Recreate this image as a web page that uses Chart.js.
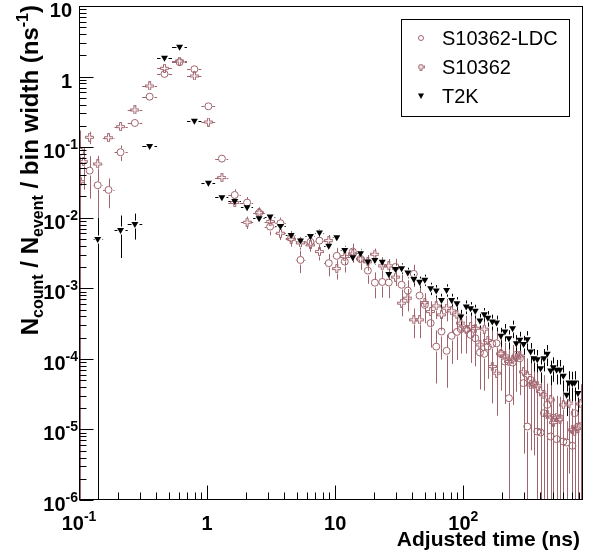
<!DOCTYPE html>
<html>
<head>
<meta charset="utf-8" />
<script src="https://cdn.jsdelivr.net/npm/chart.js@4.4.1/dist/chart.umd.min.js"></script>
<style>
  body { margin:0; background:#fff; }
  #wrap { width:596px; height:554px; }
</style>
</head>
<body>
<div id="wrap"><canvas id="c" width="596" height="554"></canvas></div>
<script>
// bin centres (ns), shared by the three samples
const binCentres = [
  0.1024, 0.1086, 0.121, 0.140, 0.170, 0.211, 0.273, 0.356, 0.465, 0.610,
  0.796, 1.024, 1.305, 1.643, 2.053, 2.548, 3.105, 3.738, 4.53, 5.36,
  6.41, 7.54, 8.91, 10.29, 11.88, 13.72, 15.77, 17.99, 20.4, 23.3,
  26.2, 29.6, 33.0, 36.9, 41.1, 45.6, 50.1, 55.6, 61.5, 67.6,
  74.1, 81.1, 89.2, 95.8, 105.5, 114.0, 124.1, 134.9, 145.9, 155.6,
  168.5, 182.0, 196.6, 211.3, 227.1, 242.7, 259.2, 276.6, 295.7, 316.2,
  335.5, 356.2, 378.4, 401.6, 426.4, 452.8, 480.8, 504.6, 535.6, 568.5,
  604.0, 641.3, 668.3, 710.6, 741.3, 785.9, 825
];

const ldcValues = [
  0.0863, null, 0.0465, 0.0289, 0.0248, 0.0847, 0.220, 0.519, 1.09, 1.60,
  1.27, 0.379, 0.0688, 0.0210, 0.0164, 0.0117, 0.00748, 0.00836, 0.00518, 0.00252,
  0.00454, 0.00474, 0.00227, 0.00288, 0.00239, 0.00331, 0.00261, 0.00178, 0.00120, 0.00123,
  0.00121, 0.00201, 0.00112, 0.000927, 0.00160, 0.000788, 0.000582, 0.000321, 0.000149, 0.000244,
  0.000130, 0.000212, 0.000241, 0.000264, 0.000264, 0.000219, 0.000196, 0.000123, 0.000118, 0.000149,
  0.000163, 0.000166, 0.000118, 9.16e-5, 2.77e-5, 8.87e-5, 1.14e-4, 1.02e-4, 4.53e-5, 1.10e-5,
  5.04e-5, 4.28e-5, 9.33e-6, 9.04e-6, 1.70e-5, 2.23e-5, 7.94e-6, 1.46e-5, 7.29e-6, 1.45e-5,
  6.75e-6, 6.52e-6, null, 5.86e-6, 1.70e-5, 1.10e-5, 1.12e-5
];
const ldcRelErr = [
  1.0, null, 0.6, 0.65, 0.45, 0.25, 0.08, 0.05, 0.04, 0.03,
  0.04, 0.06, 0.12, 0.2, 0.2, 0.2, 0.25, 0.2, 0.25, 0.35,
  0.25, 0.25, 0.35, 0.3, 0.3, 0.3, 0.3, 0.35, 0.4, 0.4,
  0.4, 0.3, 0.4, 0.4, 0.35, 0.45, 0.45, 0.55, 0.7, 0.6,
  0.7, 0.6, 0.6, 0.55, 0.55, 0.6, 0.6, 0.7, 0.7, 0.65,
  0.65, 0.65, 0.7, 0.75, 1.0, 0.75, 0.7, 0.7, 0.9, 1.0,
  0.9, 0.9, 1.0, 1.0, 1.0, 1.0, 1.0, 1.0, 1.0, 1.0,
  1.0, 1.0, null, 1.0, 1.0, 1.0, 1.0
];

const s10362Values = [
  0.0324, 0.0623, 0.138, 0.0578, 0.136, 0.195, 0.336, 0.736, 1.31, 1.66,
  1.02, 0.227, 0.0370, 0.0164, 0.00863, 0.0118, 0.00881, 0.00603, 0.00496, 0.00440,
  0.00412, 0.00331, 0.00474, 0.00190, 0.00281, 0.00307, 0.00261, 0.00237, 0.00304, 0.00208,
  0.00208, 0.00144, 0.000615, 0.000724, 0.000357, 0.000357, 0.000628, 0.000468, 0.000563, 0.000420,
  0.000523, 0.000479, 0.000420, 0.000321, 0.000258, 0.000287, 0.000272, 0.000158, 0.000264, 0.000182,
  7.78e-5, 6.27e-5, 1.18e-4, 1.10e-4, 9.16e-5, 9.68e-5, 1.06e-4, 1.10e-4, 6.54e-5, 5.80e-5,
  4.28e-5, 4.42e-5, 4.15e-5, 3.44e-5, 3.09e-5, 1.61e-5, 2.62e-5, 1.25e-5, 1.49e-5, 1.40e-5,
  2.23e-5, null, 2.36e-5, 9.87e-6, 9.3e-6, 1.04e-5, 2.3e-5
];
const s10362RelErr = [
  1.0, 0.6, 0.2, 0.3, 0.1, 0.08, 0.06, 0.04, 0.03, 0.03,
  0.04, 0.06, 0.1, 0.15, 0.2, 0.15, 0.15, 0.2, 0.2, 0.2,
  0.2, 0.25, 0.2, 0.3, 0.25, 0.2, 0.25, 0.25, 0.2, 0.25,
  0.25, 0.25, 0.35, 0.35, 0.45, 0.45, 0.35, 0.4, 0.35, 0.4,
  0.35, 0.35, 0.4, 0.45, 0.5, 0.45, 0.45, 0.55, 0.45, 0.5,
  0.7, 0.75, 0.55, 0.55, 0.6, 0.6, 0.55, 0.55, 0.7, 0.75,
  0.8, 0.8, 0.8, 0.85, 0.9, 1.0, 0.9, 1.0, 1.0, 1.0,
  0.9, null, 0.9, 1.0, 1.0, 1.0, 0.9
];

const t2kValues = [
  null, null, null, 0.00501, null, 0.00671, 0.00817, 0.104, 1.85, 2.65,
  0.237, 0.0314, 0.0195, 0.0173, 0.0141, 0.00984, 0.0104, 0.00766, 0.00571, 0.00474,
  0.00552, 0.00615, 0.00399, 0.00529, 0.00350, 0.00276, 0.00314, 0.00239, 0.00252, 0.00237,
  0.00159, 0.00187, 0.00193, 0.00167, 0.00135, 0.00124, 0.00132, 0.00100, 0.000927, 0.000685,
  0.000949, 0.000685, 0.000615, 0.000397, 0.000551, 0.000523, 0.000479, 0.000349, 0.000430, 0.000381,
  0.000338, 0.000327, 0.000212, 0.000244, 0.000196, 0.000272, 0.000167, 0.000186, 0.000163, 0.000190,
  0.000127, 0.000102, 9.9e-5, 7.38e-5, 1.02e-4, 1.18e-4, 6.83e-5, 7.63e-5, 6.99e-5, 6.99e-5,
  5.74e-5, 3.09e-5, 4.61e-5, 4.53e-5, 4.61e-5, 3.27e-5, null
];
const t2kRelErr = [
  null, null, null, 1.0, null, 0.6, 0.4, 0.06, 0.02, 0.02,
  0.04, 0.06, 0.08, 0.08, 0.08, 0.1, 0.1, 0.1, 0.12, 0.12,
  0.12, 0.12, 0.14, 0.12, 0.14, 0.15, 0.15, 0.15, 0.15, 0.15,
  0.17, 0.17, 0.17, 0.17, 0.18, 0.18, 0.18, 0.2, 0.2, 0.22,
  0.2, 0.22, 0.22, 0.25, 0.22, 0.22, 0.22, 0.25, 0.22, 0.25,
  0.25, 0.25, 0.3, 0.28, 0.3, 0.28, 0.3, 0.3, 0.3, 0.3,
  0.32, 0.35, 0.35, 0.38, 0.35, 0.33, 0.38, 0.38, 0.38, 0.38,
  0.4, 0.5, 0.45, 0.45, 0.45, 0.5, null
];

const seriesNames = ["S10362-LDC", "S10362", "T2K"];
const xTickLabels = [["10", "-1"], ["1", ""], ["10", ""], ["10", "2"]];
const yTickLabels = [["10","-6"],["10","-5"],["10","-4"],["10","-3"],["10","-2"],["10","-1"],["1",""],["10",""]];

const PINK = "#a0646e";
const FAM = '"Liberation Sans", Arial, Helvetica, sans-serif';

function openCross(size, col) {
  const c = document.createElement("canvas");
  c.width = c.height = size;
  const g = c.getContext("2d");
  const a = Math.floor(size / 3) + 0.5, b = size - Math.floor(size / 3) - 0.5, e = size - 0.5;
  g.strokeStyle = col; g.lineWidth = 1;
  g.beginPath();
  g.moveTo(a, 0.5); g.lineTo(b, 0.5); g.lineTo(b, a); g.lineTo(e, a); g.lineTo(e, b);
  g.lineTo(b, b); g.lineTo(b, e); g.lineTo(a, e); g.lineTo(a, b); g.lineTo(0.5, b);
  g.lineTo(0.5, a); g.lineTo(a, a); g.closePath();
  g.stroke();
  return c;
}

function makePoints(vals, rel) {
  const pts = [];
  const n = binCentres.length;
  binCentres.forEach((c, i) => {
    if (vals[i] == null) return;
    const prev = i > 0 ? binCentres[i - 1] : c * c / binCentres[1];
    const next = i < n - 1 ? binCentres[i + 1] : c * c / binCentres[n - 2];
    pts.push({ x: c, y: vals[i], err: vals[i] * rel[i], xl: Math.sqrt(prev * c), xh: Math.sqrt(c * next) });
  });
  return pts;
}

const errorBars = {
  id: "errorBars",
  beforeDatasetsDraw(chart) {
    const { ctx, chartArea: a } = chart;
    const xs = chart.scales.x, ys = chart.scales.y;
    ctx.save();
    ctx.beginPath(); ctx.rect(a.left, a.top, a.right - a.left, a.bottom - a.top); ctx.clip();
    chart.data.datasets.forEach(ds => {
      const g = ds.gap;
      ctx.strokeStyle = ds.barColor; ctx.lineWidth = 1;
      ds.data.forEach(p => {
        const px = Math.round(xs.getPixelForValue(p.x)) + 0.5;
        const py = Math.round(ys.getPixelForValue(p.y)) + 0.5;
        const hi = ys.getPixelForValue(p.y + p.err);
        const low = p.y - p.err;
        const lo = low > 0 ? ys.getPixelForValue(low) : a.bottom + 2;
        const l = xs.getPixelForValue(p.xl), r = xs.getPixelForValue(p.xh);
        ctx.beginPath();
        if (py - hi > g) { ctx.moveTo(px, py - g); ctx.lineTo(px, hi); }
        if (lo - py > g) { ctx.moveTo(px, py + g); ctx.lineTo(px, lo); }
        if (px - l > g) { ctx.moveTo(px - g, py); ctx.lineTo(l, py); }
        if (r - px > g) { ctx.moveTo(px + g, py); ctx.lineTo(r, py); }
        ctx.stroke();
      });
    });
    ctx.restore();
  }
};

function powText(ctx, base, exp, x, y, align, fb, fs, rise) {
  ctx.font = fb; const wb = ctx.measureText(base).width;
  ctx.font = fs; const we = exp ? ctx.measureText(exp).width : 0;
  const x0 = align === "right" ? x - wb - we : x - (wb + we) / 2;
  ctx.textAlign = "left"; ctx.textBaseline = "alphabetic";
  ctx.font = fb; ctx.fillText(base, x0, y);
  if (exp) { ctx.font = fs; ctx.fillText(exp, x0 + wb, y - rise); }
}

const rootFrame = {
  id: "rootFrame",
  afterDatasetsDraw(chart) {
    const { ctx, chartArea: a } = chart;
    const xs = chart.scales.x, ys = chart.scales.y;
    const L = Math.round(a.left) + 0.5, R = Math.round(a.right) + 0.5;
    const T = Math.round(a.top) + 0.5, B = Math.round(a.bottom) - 0.5;
    ctx.save();
    ctx.strokeStyle = "#000"; ctx.lineWidth = 1;
    ctx.strokeRect(L, T, R - L, B - T);
    ctx.beginPath();
    // x ticks
    for (let d = -1; d <= 2; d++) {
      for (let m = 1; m <= 9; m++) {
        const v = m * Math.pow(10, d);
        if (v < xs.min || v > xs.max) continue;
        const px = Math.round(xs.getPixelForValue(v)) + 0.5;
        const len = m === 1 ? 14 : 7;
        ctx.moveTo(px, B); ctx.lineTo(px, B - len);
      }
    }
    // y ticks
    for (let d = -6; d <= 1; d++) {
      for (let m = 1; m <= 9; m++) {
        const v = m * Math.pow(10, d);
        if (v < ys.min * 0.999 || v > ys.max * 1.001) continue;
        const py = Math.round(ys.getPixelForValue(v)) + 0.5;
        const len = m === 1 ? 14 : 7;
        ctx.moveTo(L, py); ctx.lineTo(L + len, py);
      }
    }
    ctx.stroke();

    ctx.fillStyle = "#000";
    const fb = "bold 20px " + FAM, fs = "bold 14px " + FAM;
    yTickLabels.forEach((lab, i) => {
      const py = ys.getPixelForValue(Math.pow(10, i - 6));
      powText(ctx, lab[0], lab[1], lab[1] ? 78 : 72, py + 11, "right", fb, fs, 9);
    });
    xTickLabels.forEach((lab, i) => {
      const px = xs.getPixelForValue(Math.pow(10, i - 1));
      powText(ctx, lab[0], lab[1], px, 530, "center", fb, fs, 9);
    });

    // x title
    ctx.font = "bold 21px " + FAM; ctx.textAlign = "right";
    ctx.fillText("Adjusted time (ns)", 580, 546);

    // y title, rotated, ending at the top of the axis
    const parts = [
      ["N", 24, 0], ["count", 16, 5], [" / N", 24, 0], ["event", 16, 5],
      [" / bin width (ns", 24, 0], ["-1", 16, -10], [")", 24, 0]
    ];
    let w = 0;
    parts.forEach(p => { ctx.font = "bold " + p[1] + "px " + FAM; w += ctx.measureText(p[0]).width; });
    ctx.translate(38, 5 + w);
    ctx.rotate(-Math.PI / 2);
    ctx.textAlign = "left";
    let x = 0;
    parts.forEach(p => {
      ctx.font = "bold " + p[1] + "px " + FAM;
      ctx.fillText(p[0], x, p[2]);
      x += ctx.measureText(p[0]).width;
    });
    ctx.restore();
  },
  afterDraw(chart) {
    const { ctx } = chart;
    ctx.save();
    ctx.fillStyle = "#fff"; ctx.strokeStyle = "#000"; ctx.lineWidth = 1;
    ctx.fillRect(401, 19, 168, 97);
    ctx.strokeRect(401.5, 19.5, 168, 97);
    ctx.font = "20px " + FAM; ctx.fillStyle = "#000";
    ctx.textAlign = "left"; ctx.textBaseline = "middle";
    const rows = [38, 67, 96];
    chart.data.datasets.forEach((ds, i) => {
      const y = rows[i], mx = 421;
      if (i === 0) {
        ctx.strokeStyle = PINK; ctx.beginPath(); ctx.arc(mx, y, 2.5, 0, Math.PI * 2); ctx.stroke();
      } else if (i === 1) {
        ctx.drawImage(legendCross, mx - 3.5, y - 3.5);
      } else {
        ctx.fillStyle = "#000"; ctx.beginPath();
        ctx.moveTo(mx - 3, y - 2.5); ctx.lineTo(mx + 3, y - 2.5); ctx.lineTo(mx, y + 3); ctx.closePath(); ctx.fill();
      }
      ctx.fillStyle = "#000";
      ctx.fillText(seriesNames[i], 442, y + 1);
    });
    ctx.restore();
  }
};

const crossMarker = openCross(9, PINK);
const legendCross = openCross(7, PINK);

new Chart(document.getElementById("c"), {
  type: "scatter",
  data: {
    datasets: [
      { label: seriesNames[0], data: makePoints(ldcValues, ldcRelErr), pointStyle: "circle",
        pointRadius: 3.5, borderColor: PINK, backgroundColor: "rgba(0,0,0,0)", borderWidth: 1,
        barColor: PINK, gap: 4, order: 2 },
      { label: seriesNames[1], data: makePoints(s10362Values, s10362RelErr), pointStyle: crossMarker,
        borderColor: PINK, backgroundColor: PINK, barColor: PINK, gap: 4, order: 1 },
      { label: seriesNames[2], data: makePoints(t2kValues, t2kRelErr), pointStyle: "triangle",
        pointRadius: 4, rotation: 180, borderColor: "#000", backgroundColor: "#000", borderWidth: 0,
        barColor: "#000", gap: 4, order: 0 }
    ]
  },
  options: {
    responsive: false, animation: false, devicePixelRatio: 1,
    layout: { padding: { left: 79, right: 14, top: 6, bottom: 54 } },
    plugins: { legend: { display: false }, tooltip: { enabled: false } },
    scales: {
      x: { type: "logarithmic", min: 0.1, max: 845, display: false },
      y: { type: "logarithmic", min: 1e-6, max: 10, display: false }
    }
  },
  plugins: [errorBars, rootFrame]
});
</script>
</body>
</html>
